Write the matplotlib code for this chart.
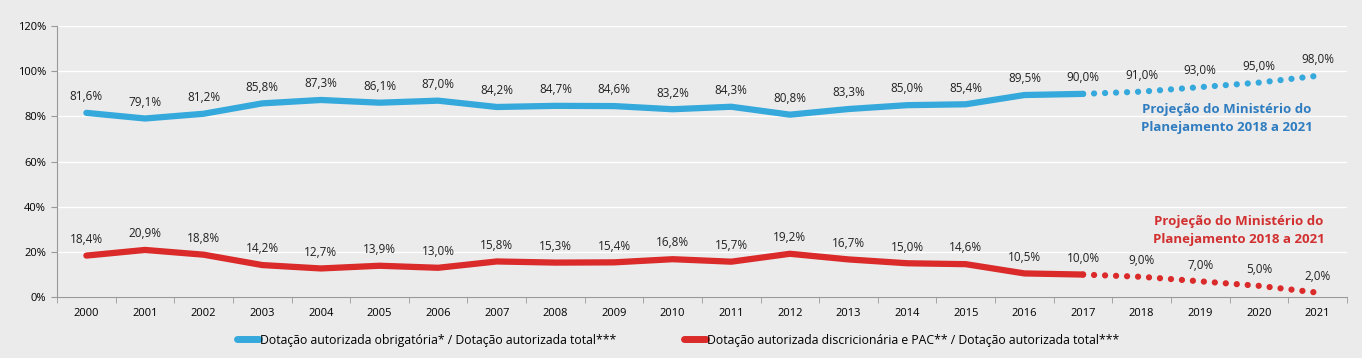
import matplotlib
matplotlib.use("Agg")
import matplotlib.pyplot as plt
from matplotlib.ticker import FuncFormatter

years = [str(y) for y in range(2000, 2022)]
obrig = [81.6, 79.1, 81.2, 85.8, 87.3, 86.1, 87.0, 84.2, 84.7, 84.6, 83.2, 84.3,
         80.8, 83.3, 85.0, 85.4, 89.5, 90.0, 91.0, 93.0, 95.0, 98.0]
discr = [18.4, 20.9, 18.8, 14.2, 12.7, 13.9, 13.0, 15.8, 15.3, 15.4, 16.8, 15.7,
         19.2, 16.7, 15.0, 14.6, 10.5, 10.0, 9.0, 7.0, 5.0, 2.0]
n_real = 18  # 2000..2017 realizados, 2018..2021 projetados

blue = "#35A8DC"
red = "#DA2A2A"
bg = "#EBEBEB"

plt.rcParams['font.family'] = ['Open Sans', 'DejaVu Sans']

fig = plt.figure(figsize=(13.62, 3.58), dpi=100, facecolor=bg)
ax = fig.add_axes([0.0419, 0.170, 0.947, 0.757])
ax.set_facecolor(bg)

x = list(range(len(years)))
for vals, c in [(obrig, blue), (discr, red)]:
    ax.plot(x[:n_real], vals[:n_real], color=c, lw=4.5, solid_capstyle='round',
            solid_joinstyle='round', zorder=3)
    ax.plot(x[n_real - 1:], vals[n_real - 1:], color=c, lw=4.5, linestyle=(0, (0.01, 1.75)),
            dash_capstyle='round', zorder=3)
    for xi, v in zip(x, vals):
        ax.annotate(f"{v:.1f}%".replace('.', ','), (xi, v), xytext=(0, 7),
                    textcoords='offset points', ha='center', va='bottom',
                    fontsize=8.5, color='#222222')

ax.set_xlim(-0.5, len(years) - 0.5)
ax.set_ylim(0, 120)
ax.set_yticks(range(0, 121, 20))
ax.yaxis.set_major_formatter(FuncFormatter(lambda v, p: f"{int(v)}%"))
ax.set_xticks(x)
ax.set_xticklabels(years)
ax.set_xticks([i + 0.5 for i in range(-1, len(years))], minor=True)
ax.tick_params(axis='x', which='major', length=0, pad=8, labelsize=8)
ax.tick_params(axis='x', which='minor', length=4, color='#999999')
ax.tick_params(axis='y', length=4, color='#999999', labelsize=8, pad=4)
ax.grid(axis='y', color='white', lw=1)
ax.set_axisbelow(True)
for s in ['top', 'right']:
    ax.spines[s].set_visible(False)
ax.spines['left'].set_color('#999999')
ax.spines['bottom'].set_color('#999999')

ax.text(19.45, 79, "Projeção do Ministério do\nPlanejamento 2018 a 2021", color="#2F7DC0",
        fontsize=9.5, fontweight='bold', ha='center', va='center', linespacing=1.45)
ax.text(19.65, 29.5, "Projeção do Ministério do\nPlanejamento 2018 a 2021", color="#D23030",
        fontsize=9.5, fontweight='bold', ha='center', va='center', linespacing=1.45)

h1, = ax.plot([], [], color=blue, lw=5, solid_capstyle='round')
h2, = ax.plot([], [], color=red, lw=5, solid_capstyle='round')
fig.legend([h1, h2], ["Dotação autorizada obrigatória* / Dotação autorizada total***",
                      "Dotação autorizada discricionária e PAC** / Dotação autorizada total***"],
           loc='center', bbox_to_anchor=(0.498, 0.05), ncol=2, frameon=False,
           fontsize=8.8, handlelength=1.8, handletextpad=0.1, columnspacing=5.5)

fig.savefig("out.png", dpi=100, facecolor=bg)
